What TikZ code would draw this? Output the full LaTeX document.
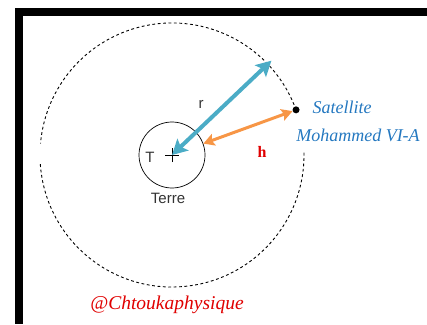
\documentclass[tikz,border=0pt]{standalone}
\usepackage{fontspec}
\setmainfont{Liberation Serif}
\newfontfamily\arialfont{Liberation Sans}
\usetikzlibrary{arrows.meta}
\definecolor{aqua}{HTML}{4BACC6}
\definecolor{heavyorange}{HTML}{F79646}
\definecolor{satblue}{HTML}{2478C0}
\definecolor{heavyred}{HTML}{E00000}

\begin{document}
\begin{tikzpicture}[x=1pt, y=1pt,
  orbit/.style={line width=0.9pt, dash pattern=on 2.8pt off 2.6pt},
  rarrow/.style={aqua, line width=4pt, {Stealth[length=15pt,width=16pt,inset=3pt]}-{Stealth[length=15pt,width=16pt,inset=3pt]}},
  harrow/.style={heavyorange, line width=3pt, {Stealth[length=11pt,width=12pt,inset=2pt]}-{Stealth[length=11pt,width=12pt,inset=2pt]}},
  sans/.style={font=\arialfont\fontsize{15}{15}\selectfont, text=black!80}]
  \useasboundingbox (0,0) rectangle (427,324);
  % frame
  \fill (15,0) rectangle (23,316);
  \fill (15,308) rectangle (427,316);
  % earth and orbit
  \coordinate (E) at (172,169);
  \node[circle, draw, line width=0.7pt, minimum size=66pt, inner sep=0pt] (earth) at (E) {};
  \draw[line width=0.7pt] ([xshift=-7pt]E) -- ([xshift=7pt]E);
  \draw[line width=0.7pt] ([yshift=-7pt]E) -- ([yshift=7pt]E);
  \draw[orbit] ([shift={(E)}]20:132) arc (20:175:132);
  \draw[orbit] ([shift={(E)}]184:132) arc (184:361:132);
  \node[circle, fill, inner sep=0pt, minimum size=7pt] (sat) at ([shift={(E)}]20:132) {};
  \coordinate (rtip) at ([shift={(E)}]43.5:137);
  % arrows
  \draw[rarrow] (E) -- (rtip);
  \draw[harrow] (earth.20) -- (sat);
  % labels
  \node[sans] (rlab) at (201,220) {r};
  \node[font=\bfseries\fontsize{16}{16}\selectfont, text=heavyred] (hlab) at (262,172) {h};
  \node[sans] (tlab) at (150,167) {T};
  \node[sans] (terre) at (168,126) {Terre};
  \node[font=\itshape\fontsize{18}{18}\selectfont, text=satblue] (satname) at (342,217) {Satellite};
  \node[font=\itshape\fontsize{18}{18}\selectfont, text=satblue] (satmodel) at (358,189) {Mohammed VI-A};
  \node[font=\itshape\fontsize{19.5}{19.5}\selectfont, text=heavyred] (credit) at (167,19) {@Chtoukaphysique};
\end{tikzpicture}
\end{document}
